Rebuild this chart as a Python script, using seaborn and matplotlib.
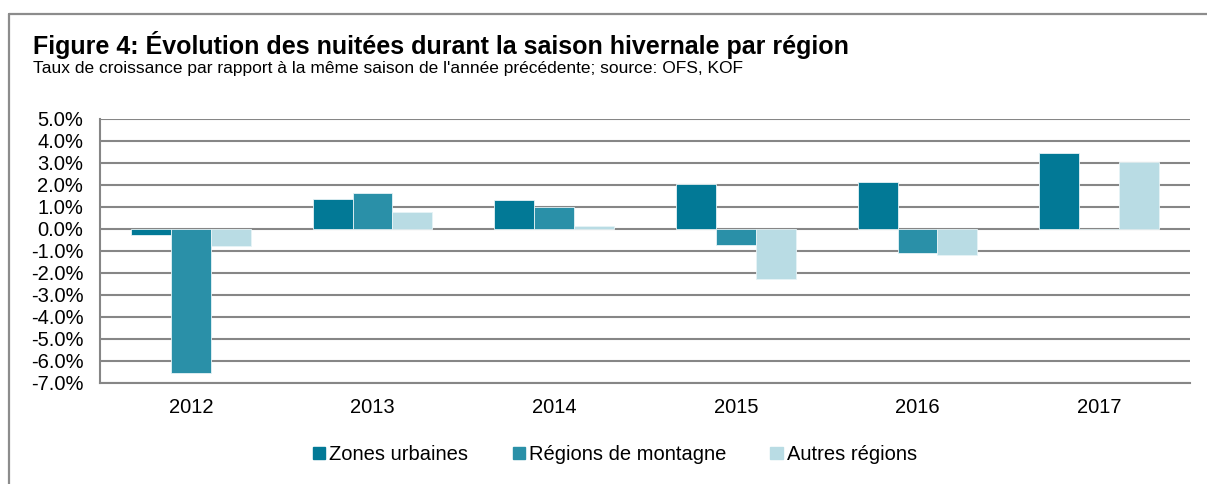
import pandas as pd
import matplotlib.pyplot as plt
import seaborn as sns
from matplotlib.lines import Line2D

# Data
years = ["2012", "2013", "2014", "2015", "2016", "2017"]
regions = ["Zones urbaines", "Régions de montagne", "Autres régions"]
zones_urbaines = [-0.27, 1.36, 1.30, 2.02, 2.15, 3.47]
regions_montagne = [-6.55, 1.62, 0.98, -0.73, -1.12, 0.0]
autres_regions = [-0.77, 0.78, 0.14, -2.29, -1.20, 3.05]
colors = ["#027996", "#2A90A8", "#B9DCE4"]

df = pd.DataFrame({
    "year": years * 3,
    "region": [r for r in regions for _ in years],
    "value": zones_urbaines + regions_montagne + autres_regions,
})

sns.set_theme(style="white")
plt.rcParams["font.family"] = ["Liberation Sans", "DejaVu Sans"]
plt.rcParams["text.color"] = "black"

W, H = 1207, 484
fig = plt.figure(figsize=(W / 100, H / 100), dpi=100)
ax = fig.add_axes([100 / W, 1 - 382.5 / H, (1190 - 100) / W, (382.5 - 119) / H])

sns.barplot(data=df, x="year", y="value", hue="region", order=years,
            hue_order=regions, palette=colors, width=0.66, ax=ax,
            edgecolor="#e6f3f6", linewidth=0.6, saturation=1, legend=False)

grid_col = "#868686"
ax.set_ylim(-7, 5)
ax.set_yticks(range(-7, 6))
ax.set_yticklabels([f"{v:.1f}%" for v in range(-7, 6)])
ax.set_axisbelow(True)
ax.yaxis.grid(True, color=grid_col, linewidth=1.5)
ax.xaxis.grid(False)
for s in ["top", "right"]:
    ax.spines[s].set_visible(False)
for s in ["left", "bottom"]:
    ax.spines[s].set_color(grid_col)
    ax.spines[s].set_linewidth(1.5)
ax.tick_params(axis="y", length=0, pad=12, labelsize=14.5, colors="black")
ax.tick_params(axis="x", length=0, pad=11, labelsize=14.5, colors="black")
ax.set_xlabel("")
ax.set_ylabel("")

# outer frame
fig.add_artist(Line2D([9 / W, 1.0], [1 - 14 / H, 1 - 14 / H], color="#8c8c8c", lw=1.6))
fig.add_artist(Line2D([9 / W, 9 / W], [0, 1 - 14 / H], color="#8c8c8c", lw=1.6))

fig.text(33 / W, 1 - 54 / H, "Figure 4: Évolution des nuitées durant la saison hivernale par région",
         fontsize=18, fontweight="bold", va="baseline", ha="left")
fig.text(33 / W, 1 - 73 / H,
         "Taux de croissance par rapport à la même saison de l'année précédente; source: OFS, KOF",
         fontsize=12.5, va="baseline", ha="left")

handles = [plt.Rectangle((0, 0), 1, 1, color=c) for c in colors]
fig.legend(handles, regions, loc="center", bbox_to_anchor=(615 / W, 1 - 455 / H),
           ncol=3, frameon=False, fontsize=14.5, handlelength=0.6, handleheight=0.55,
           handletextpad=0.2, columnspacing=2.2)

fig.savefig("out.png", dpi=100)
